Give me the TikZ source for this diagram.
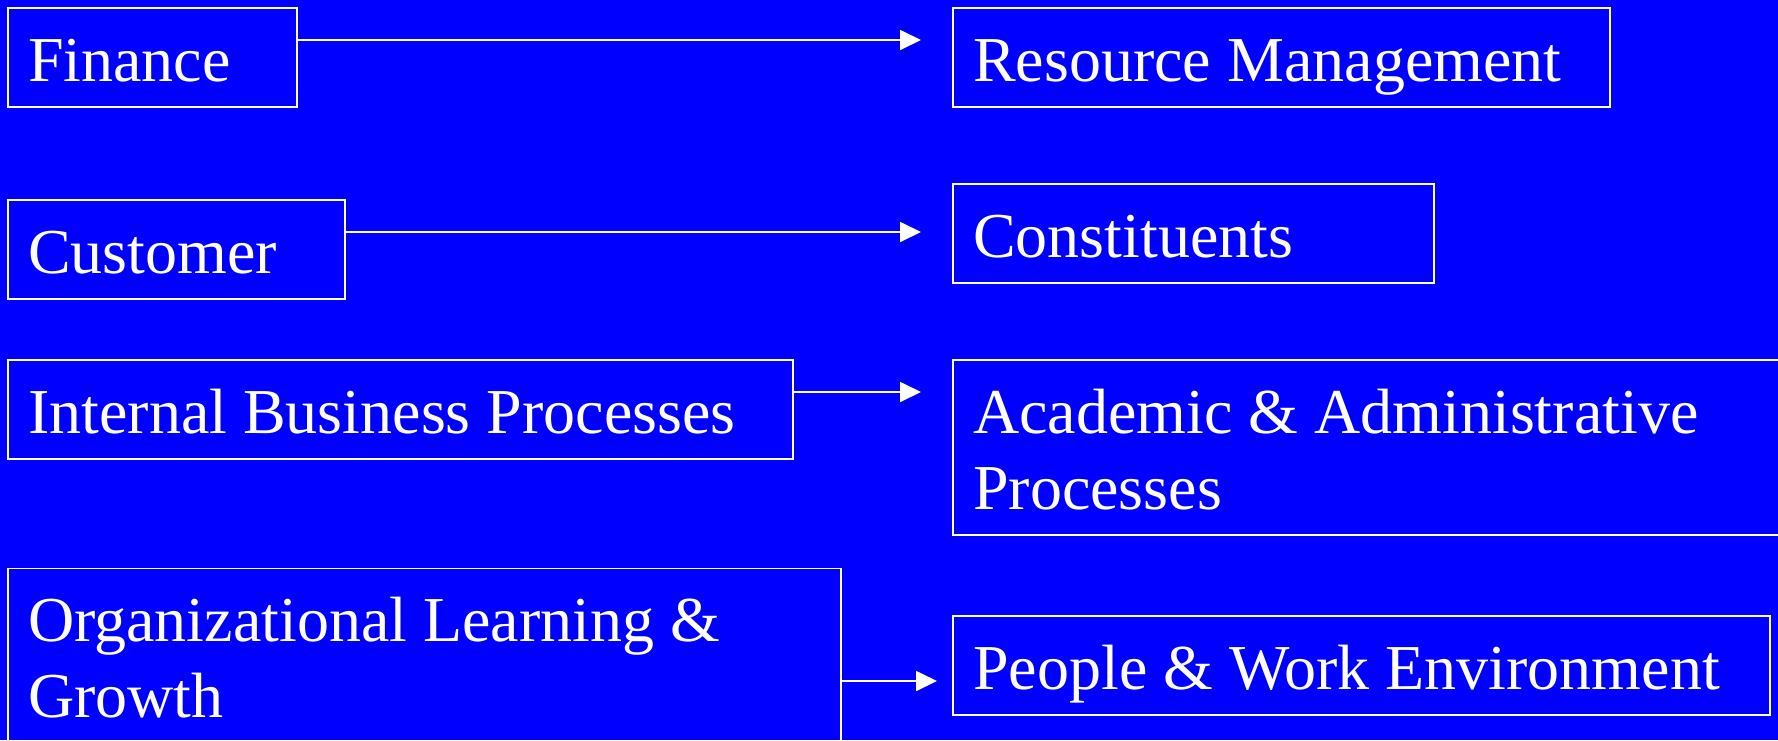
\documentclass[tikz,border=0pt]{standalone}
\usepackage{fontspec}
\setmainfont{Liberation Serif}
\usetikzlibrary{arrows.meta}
\definecolor{bgblue}{RGB}{0,0,255}
\tikzset{
  boxnode/.style={draw=white, line width=1.8pt, anchor=north west, inner sep=0pt, outer sep=0pt, minimum height=99pt},
  label text/.style={text=white, anchor=base west, align=left, inner sep=0pt, font=\fontsize{64}{76}\selectfont},
  arr/.style={draw=white, line width=1.8pt, -{Triangle[length=21pt,width=20pt]}}
}
\begin{document}
\begin{tikzpicture}[x=1pt,y=-1pt]
\fill[bgblue] (0,0) rectangle (1778,740);
\useasboundingbox (0,0) rectangle (1778,740);
\clip (0,0) rectangle (1778,740);
% boxes
\node[boxnode, minimum width=289pt] (fin) at (8,8) {};
\node[boxnode, minimum width=657pt] (rm) at (953,8) {};
\node[boxnode, minimum width=337pt] (cust) at (8,200) {};
\node[boxnode, minimum width=481pt] (con) at (953,184) {};
\node[boxnode, minimum width=785pt] (ibp) at (8,360) {};
\node[boxnode, minimum width=900pt, minimum height=175pt] (acad) at (953,360) {};
\node[boxnode, minimum width=833pt, minimum height=250pt] (org) at (8,568.5) {};
\node[boxnode, minimum width=817pt] (ppl) at (953,616) {};
% texts
\node[label text] (fint) at ([xshift=20pt,yshift=-73pt]fin.north west) {Finance};
\node[label text] (rmt) at ([xshift=20pt,yshift=-73pt]rm.north west) {Resource Management};
\node[label text] (custt) at ([xshift=20pt,yshift=-73pt]cust.north west) {Customer};
\node[label text] (cont) at ([xshift=20pt,yshift=-73pt]con.north west) {Constituents};
\node[label text] (ibpt) at ([xshift=20pt,yshift=-73pt]ibp.north west) {Internal Business Processes};
\node[label text] (acadt) at ([xshift=20pt,yshift=-149pt]acad.north west) {Academic \& Administrative\\Processes};
\node[label text] (orgt) at ([xshift=20pt,yshift=-148.5pt]org.north west) {Organizational Learning \&\\Growth};
\node[label text] (pplt) at ([xshift=20pt,yshift=-73pt]ppl.north west) {People \& Work Environment};
% connectors
\draw[arr] ([yshift=-32pt]fin.north east) -- ([xshift=-32pt,yshift=-32pt]rm.north west);
\draw[arr] ([yshift=-32pt]cust.north east) -- ([xshift=-32pt,yshift=-48pt]con.north west);
\draw[arr] ([yshift=-32pt]ibp.north east) -- ([xshift=-32pt,yshift=-32pt]acad.north west);
\draw[arr] ([yshift=-112.5pt]org.north east) -- ([xshift=-16pt,yshift=-65pt]ppl.north west);
\end{tikzpicture}
\end{document}
